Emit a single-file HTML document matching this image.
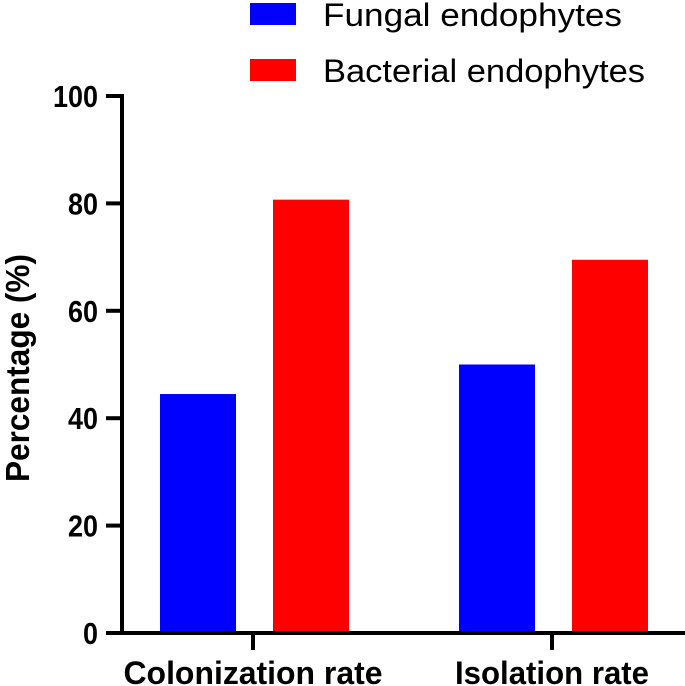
<!DOCTYPE html>
<html><head><meta charset="utf-8"><style>
body{margin:0;background:#fff}
svg{display:block;font-family:"Liberation Sans",Arial,sans-serif}
</style></head><body>
<svg id="chart" width="685" height="686" viewBox="0 0 685 686">
<g id="legend">
<rect x="250" y="3" width="46" height="22" fill="#0000ff"/>
<text x="323" y="26" font-size="32" textLength="299" lengthAdjust="spacingAndGlyphs">Fungal endophytes</text>
<rect x="250" y="59" width="46" height="22" fill="#ff0000"/>
<text x="323" y="82" font-size="32" textLength="322" lengthAdjust="spacingAndGlyphs">Bacterial endophytes</text>
</g>
<g id="bars"></g>
<g id="axes"></g>
<text transform="translate(29,368) rotate(-90)" text-anchor="middle" font-size="33" font-weight="bold" textLength="228" lengthAdjust="spacingAndGlyphs">Percentage (%)</text>
</svg>
<script>
const categories = ["Colonization rate", "Isolation rate"];
const fungal = [44.5, 50];
const bacterial = [80.7, 69.5];
const yTicks = [0, 20, 40, 60, 80, 100];

const NS = "http://www.w3.org/2000/svg";
const y0 = 633, y100 = 96, axisX = 122;
const yScale = v => y0 - (y0 - y100) * v / 100;
const catCenter = i => 253 + i * 299;
const bw = 76;
const labelWidths = [259, 194];
function mk(tag, attrs, parent){const e=document.createElementNS(NS,tag);for(const k in attrs)e.setAttribute(k,attrs[k]);parent.appendChild(e);return e;}
const bars = document.getElementById('bars');
const axes = document.getElementById('axes');
categories.forEach((c,i)=>{
  const cx = catCenter(i);
  const b1 = mk('rect',{x:cx-93,y:yScale(fungal[i]),width:bw,height:y0-yScale(fungal[i]),fill:'#0000ff'},bars);
  
  
  const b2 = mk('rect',{x:cx+20,y:yScale(bacterial[i]),width:bw,height:y0-yScale(bacterial[i]),fill:'#ff0000'},bars);
  
  
  const t = mk('line',{x1:cx,x2:cx,y1:y0,y2:y0+17,stroke:'#000','stroke-width':4},axes);
  
  
  const l = mk('text',{x:cx,y:684,'text-anchor':'middle','font-size':32,'font-weight':'bold',textLength:labelWidths[i] || c.length*15,lengthAdjust:'spacingAndGlyphs'},axes);
  l.textContent = c;
  
  
});
const xa = mk('line',{x1:106,x2:685,y1:y0,y2:y0,stroke:'#000','stroke-width':4},axes);


const ya = mk('line',{x1:axisX,x2:axisX,y1:y100-2,y2:y0,stroke:'#000','stroke-width':4},axes);


yTicks.forEach(v=>{
  const y = yScale(v);
  const t = mk('line',{x1:106,x2:axisX,y1:y,y2:y,stroke:'#000','stroke-width':4},axes);
  
  
  const s = String(v);
  const l = mk('text',{x:98,y:y+11,'text-anchor':'end','font-size':31,'font-weight':'bold',textLength:s.length*15,lengthAdjust:'spacingAndGlyphs'},axes);
  l.textContent = s;
  
  
});
</script>
</body></html>
